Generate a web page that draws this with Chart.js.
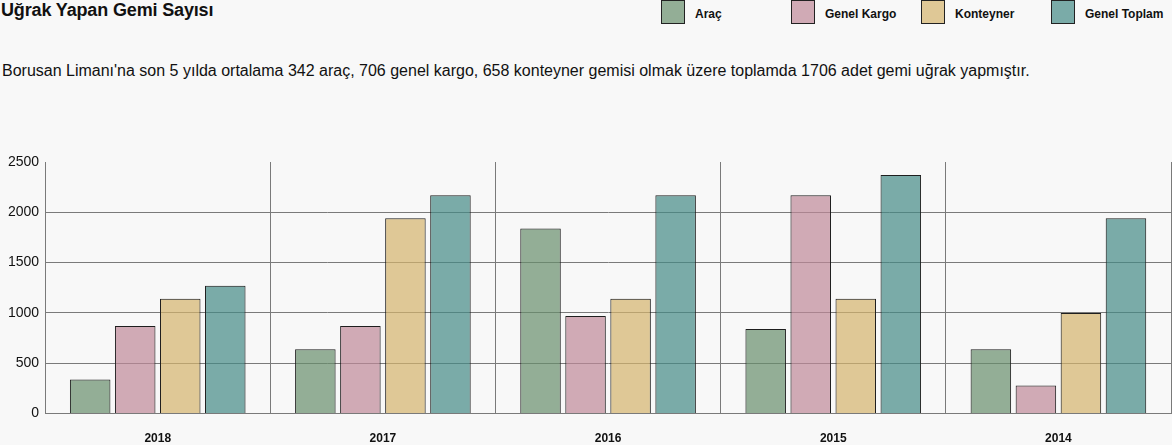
<!DOCTYPE html>
<html lang="tr">
<head>
<meta charset="utf-8">
<script src="https://cdn.jsdelivr.net/npm/chart.js@4"></script>
<style>
    body {
        margin: 0;
        background: #f8f8f8;
        font-family: "Liberation Sans", Arial, sans-serif;
        color: #111;
        width: 1172px;
        height: 445px;
        overflow: hidden;
        position: relative;
    }
    h1 {
        position: absolute;
        left: 1px;
        top: 0;
        margin: 0;
        font-size: 18px;
        font-weight: bold;
        letter-spacing: -0.15px;
    }
    p.sub {
        position: absolute;
        left: 2px;
        top: 62px;
        margin: 0;
        font-size: 16px;
    }
    #legend {
        position: absolute;
        left: 661px;
        top: 0;
        display: flex;
    }
    .item {
        width: 130px;
        display: flex;
        align-items: center;
        font-size: 12px;
        font-weight: bold;
    }
    .item span {
        padding-top: 3px;
    }
    .box {
        width: 24px;
        height: 24px;
        border: 1px solid #222;
        margin-right: 10px;
        box-sizing: border-box;
    }
    #grafico {
        position: absolute;
        left: 0;
        top: 140px;
    }
</style>
</head>
<body>
<h1>Uğrak Yapan Gemi Sayısı</h1>
<div id="legend"></div>
<p class="sub">Borusan Limanı'na son 5 yılda ortalama 342 araç, 706 genel kargo, 658 konteyner gemisi olmak üzere toplamda 1706 adet gemi uğrak yapmıştır.</p>
<canvas id="grafico" width="1172" height="324"></canvas>
<script>
const years = ["2018", "2017", "2016", "2015", "2014"];
const seriesNames = ["Araç", "Genel Kargo", "Konteyner", "Genel Toplam"];
const arac = [340, 640, 1840, 840, 640];
const genelKargo = [870, 870, 970, 2170, 280];
const konteyner = [1140, 1940, 1140, 1140, 1000];
const genelToplam = [1270, 2170, 2170, 2370, 1940];
const yTicks = [0, 500, 1000, 1500, 2000, 2500];

const colors = [
    "rgba(104, 142, 108, 0.7)",
    "rgba(191, 137, 152, 0.7)",
    "rgba(212, 179, 108, 0.7)",
    "rgba(68, 138, 134, 0.7)",
];
const values = [arac, genelKargo, konteyner, genelToplam];

// legenda em html, com espaçamento fixo
const legend = document.getElementById("legend");
seriesNames.forEach((name, i) => {
    const item = document.createElement("div");
    item.className = "item";
    const box = document.createElement("div");
    box.className = "box";
    box.style.background = colors[i];
    const text = document.createElement("span");
    text.textContent = name;
    item.appendChild(box);
    item.appendChild(text);
    legend.appendChild(item);
});

const datasets = seriesNames.map((name, i) => ({
    label: name,
    data: values[i],
    backgroundColor: colors[i],
    borderColor: "#1e1e1e",
    borderWidth: 1,
}));

new Chart(document.getElementById("grafico"), {
    type: "bar",
    data: { labels: years, datasets: datasets },
    options: {
        responsive: false,
        animation: false,
        devicePixelRatio: 1,
        layout: { padding: { top: 22, right: 1, left: 2 } },
        plugins: {
            legend: { display: false },
            tooltip: { enabled: false },
        },
        scales: {
            x: {
                grid: {
                    color: "#7a7a7a",
                    drawTicks: false,
                },
                border: { color: "#7a7a7a" },
                ticks: {
                    color: "#111",
                    padding: 18,
                    font: { family: "Liberation Sans", size: 12, weight: "bold" },
                },
            },
            y: {
                min: 0,
                max: 2500,
                afterBuildTicks: (axis) => {
                    axis.ticks = yTicks.map((v) => ({ value: v }));
                },
                grid: {
                    color: (ctx) => (ctx.tick && ctx.tick.value === 2500 ? "rgba(0,0,0,0)" : "#7a7a7a"),
                    drawTicks: false,
                },
                border: { color: "#7a7a7a" },
                ticks: {
                    color: "#111",
                    padding: 6,
                    font: { family: "Liberation Sans", size: 14 },
                    callback: (value) => String(value),
                },
            },
        },
    },
});
</script>
</body>
</html>
